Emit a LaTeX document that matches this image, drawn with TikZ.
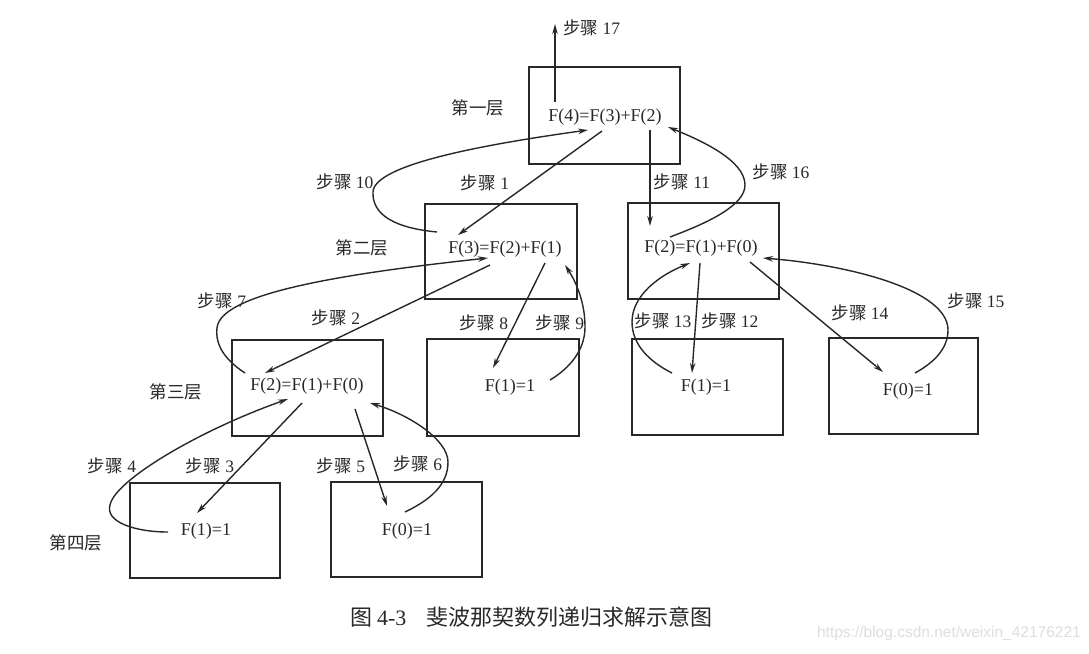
\documentclass[tikz,border=0pt]{standalone}
\usepackage{fontspec}
\setmainfont{Liberation Serif}
\newfontfamily\cjk{Noto Sans CJK SC}
\newfontfamily\wmfont{Liberation Sans}
\usetikzlibrary{arrows.meta}
\newcommand\stp[1]{{\cjk 步骤} #1}
\definecolor{ink}{RGB}{40,40,40}
\begin{document}
\begin{tikzpicture}[x=1pt,y=-1pt,
  boxn/.style 2 args={draw=ink,line width=2pt,minimum width=#1,minimum height=#2,inner sep=0pt},
  ftxt/.style={inner sep=0pt,text=ink,font=\fontsize{18}{20}\selectfont},
  lbl/.style={inner sep=0pt,text=ink,font=\fontsize{17.5}{20}\selectfont},
  lay/.style={inner sep=0pt,text=ink,font=\cjk\fontsize{17.5}{20}\selectfont},
  arr/.style={draw=ink,line width=1.4pt,-{Stealth[length=10pt,width=5.5pt]}}]
\fill[white] (0,0) rectangle (1089,653);
\useasboundingbox (0,0) rectangle (1089,653);
% boxes
\node[boxn={151pt}{97pt}] (b4) at (604.5,115.5) {};
\node[boxn={152pt}{95pt}] (b3) at (501,251.5) {};
\node[boxn={151pt}{96pt}] (b2r) at (703.5,251) {};
\node[boxn={151pt}{96pt}] (b2l) at (307.5,388) {};
\node[boxn={152pt}{97pt}] (b1a) at (503,387.5) {};
\node[boxn={151pt}{96pt}] (b1b) at (707.5,387) {};
\node[boxn={149pt}{96pt}] (b0a) at (903.5,386) {};
\node[boxn={150pt}{95pt}] (b1c) at (205,530.5) {};
\node[boxn={151pt}{95pt}] (b0b) at (406.5,529.5) {};
% texts
\node[ftxt] (t4) at (605,117) {F(4)=F(3)+F(2)};
\node[ftxt] (t3) at (505,249) {F(3)=F(2)+F(1)};
\node[ftxt] (t2r) at (701,248) {F(2)=F(1)+F(0)};
\node[ftxt] (t2l) at (307,386) {F(2)=F(1)+F(0)};
\node[ftxt] (t1a) at (510,387) {F(1)=1};
\node[ftxt] (t1b) at (706,387) {F(1)=1};
\node[ftxt] (t0a) at (908,391) {F(0)=1};
\node[ftxt] (t1c) at (206,531) {F(1)=1};
\node[ftxt] (t0b) at (407,531) {F(0)=1};
% layer labels
\node[lay] (l1) at (478,108) {第一层};
\node[lay] (l2) at (362,248) {第二层};
\node[lay] (l3) at (176,392) {第三层};
\node[lay] (l4) at (76,543) {第四层};
% step labels
\node[lbl,anchor=west] (s17) at (563,28) {\stp{17}};
\node[lbl] (s10) at (345,182) {\stp{10}};
\node[lbl] (s1) at (485,183) {\stp{1}};
\node[lbl] (s11) at (682,182) {\stp{11}};
\node[lbl] (s16) at (781,172) {\stp{16}};
\node[lbl] (s7) at (222,301) {\stp{7}};
\node[lbl] (s2) at (336,318) {\stp{2}};
\node[lbl] (s8) at (484,323) {\stp{8}};
\node[lbl] (s9) at (560,323) {\stp{9}};
\node[lbl] (s13) at (663,321) {\stp{13}};
\node[lbl] (s12) at (730,321) {\stp{12}};
\node[lbl] (s14) at (860,313) {\stp{14}};
\node[lbl] (s15) at (976,301) {\stp{15}};
\node[lbl] (s4) at (112,466) {\stp{4}};
\node[lbl] (s3) at (210,466) {\stp{3}};
\node[lbl] (s5) at (341,466) {\stp{5}};
\node[lbl] (s6) at (418,464) {\stp{6}};
% caption and watermark
\node[inner sep=0pt,anchor=west,text=ink,font=\cjk\fontsize{22}{24}\selectfont] (cap) at (350,617)
  {图 {\rmfamily 4-3}\hspace{20pt}斐波那契数列递归求解示意图};
\node[inner sep=0pt,anchor=east,text=black!13,font=\wmfont\fontsize{15.5}{17}\selectfont] (wm) at (1081,633)
  {https://blog.csdn.net/weixin\_42176221};
% connectors
\coordinate (out17) at (555,24);
\draw[arr] ([shift={(-50,-15)}]t4.center) -- (out17);
\draw[arr] ([shift={(-3,14)}]t4.center) -- ([shift={(-47,-14)}]t3.center);
\draw[arr] ([shift={(-68,-17)}]t3.center) .. controls (395,228) and (372,215) .. (373,192)
  .. controls (374,165) and (480,145) .. ([shift={(-17,13)}]t4.center);
\draw[arr] ([shift={(45,13)}]t4.center) -- ([shift={(-51,-22)}]t2r.center);
\draw[arr] ([shift={(-31,-11)}]t2r.center) .. controls (710,222) and (745,205) .. (745,185)
  .. controls (745,160) and (700,140) .. ([shift={(63,10)}]t4.center);
\draw[arr] ([shift={(-15,16)}]t3.center) -- ([shift={(-42,-13)}]t2l.center);
\draw[arr] ([shift={(-62,-13)}]t2l.center) .. controls (225,360) and (215,345) .. (217,328)
  .. controls (220,295) and (330,275) .. ([shift={(-17,9)}]t3.center);
\draw[arr] ([shift={(40,14)}]t3.center) -- ([shift={(-17,-19)}]t1a.center);
\draw[arr] ([shift={(40,-7)}]t1a.center) .. controls (570,368) and (585,350) .. (585,327)
  .. controls (585,305) and (578,285) .. ([shift={(60,16)}]t3.center);
\draw[arr] ([shift={(-5,17)}]t2l.center) -- ([shift={(-9,-18)}]t1c.center);
\draw[arr] ([shift={(-38,1)}]t1c.center) .. controls (135,532) and (105,522) .. (110,505)
  .. controls (115,480) and (200,430) .. ([shift={(-19,13)}]t2l.center);
\draw[arr] ([shift={(48,23)}]t2l.center) -- ([shift={(-20,-25)}]t0b.center);
\draw[arr] ([shift={(-2,-19)}]t0b.center) .. controls (430,500) and (448,485) .. (448,462)
  .. controls (448,440) and (410,415) .. ([shift={(63,17)}]t2l.center);
\draw[arr] ([shift={(-1,15)}]t2r.center) -- ([shift={(-14,-14)}]t1b.center);
\draw[arr] ([shift={(-34,-14)}]t1b.center) .. controls (650,362) and (632,345) .. (632,322)
  .. controls (632,295) and (660,275) .. ([shift={(-11,15)}]t2r.center);
\draw[arr] ([shift={(49,14)}]t2r.center) -- ([shift={(-25,-19)}]t0a.center);
\draw[arr] ([shift={(7,-18)}]t0a.center) .. controls (935,362) and (948,348) .. (948,330)
  .. controls (948,290) and (850,265) .. ([shift={(62,10)}]t2r.center);
\end{tikzpicture}
\end{document}
